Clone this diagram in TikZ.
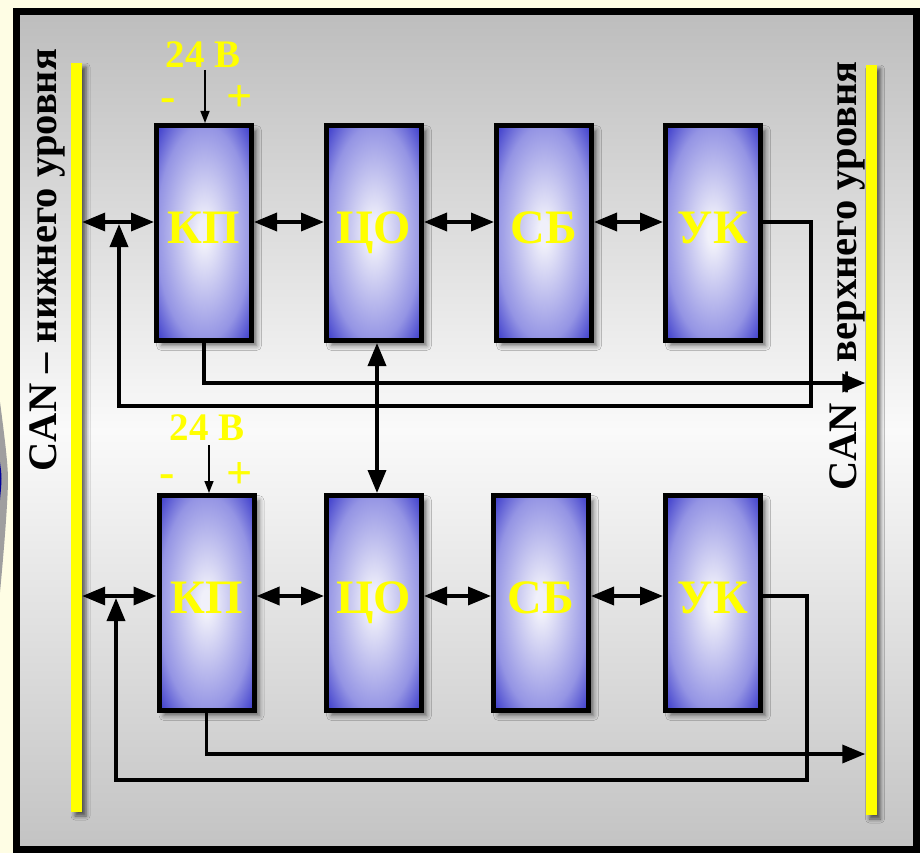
\documentclass[tikz,border=0pt]{standalone}
\usepackage{fontspec}
\setmainfont{Liberation Serif}
\usetikzlibrary{arrows.meta,shadows.blur}
\definecolor{cream}{HTML}{FEFDE4}
\definecolor{bgin}{HTML}{F0F0FA}
\definecolor{bgmid}{HTML}{9494E4}
\definecolor{bgout}{HTML}{3232C8}
\definecolor{ylw}{HTML}{FFFF00}
\definecolor{frtop}{HTML}{BDBDBD}
\definecolor{frmid}{HTML}{FAFAFA}
\definecolor{frbot}{HTML}{C3C3C3}
\pgfdeclareradialshading{boxglow}{\pgfpoint{0bp}{0bp}}{color(0bp)=(bgin); color(3bp)=(bgin); color(25bp)=(bgmid); color(36bp)=(bgout); color(50bp)=(bgout)}
\tikzset{
  blk/.style={draw=black, line width=5pt, minimum width=95pt, minimum height=215pt, inner sep=0pt, shade, shading=boxglow,
    blur shadow={shadow xshift=5pt, shadow yshift=-5pt, shadow blur radius=5pt, shadow opacity=55}},
  bar/.style={fill=ylw, minimum width=11pt, inner sep=0pt,
    blur shadow={shadow xshift=4pt, shadow yshift=-4pt, shadow blur radius=4pt, shadow opacity=60}},
  lbl/.style={font=\bfseries\fontsize{48}{48}\selectfont, text=ylw, anchor=base, inner sep=0pt},
  vlt/.style={font=\bfseries\fontsize{39}{39}\selectfont, text=ylw, inner sep=0pt},
  sgn/.style={font=\bfseries\fontsize{46}{46}\selectfont, text=ylw, inner sep=0pt},
  cantxt/.style={font=\bfseries\fontsize{40.5}{40.5}\selectfont, rotate=90, inner sep=0pt},
  wire/.style={line width=3.5pt},
  arr/.style={wire, -{Triangle[length=23pt,width=18pt]}},
  dbl/.style={wire, {Triangle[length=23pt,width=18pt]}-{Triangle[length=23pt,width=18pt]}},
  pwr/.style={line width=1.5pt, -{Triangle[length=12pt,width=9pt]}},
}
\begin{document}
\begin{tikzpicture}[x=1pt,y=-1pt]
\useasboundingbox (0,0) rectangle (920,853);
\fill[cream] (0,0) rectangle (920,853);
\fill[gray!75] (0,402) .. controls (5,440) and (8,465) .. (8,480) .. controls (8,495) and (5,540) .. (0,592) -- cycle;
\fill[blue!60!black] (0,462) .. controls (2,478) .. (0,500) -- cycle;
\draw[line width=6.5pt, top color=frtop, bottom color=frbot, middle color=frmid] (16.5,11.5) rectangle (916.5,849.5);

% buses
\node[bar, minimum height=749pt] (lbar) at (76.5,437.5) {};
\node[bar, minimum height=750pt] (rbar) at (871,440) {};
\node[cantxt] (ltxt) at (47,260) {CAN – нижнего уровня};
\node[cantxt] (rtxt) at (847,276) {CAN – верхнего уровня};

% blocks
\node[blk] (kp1) at (204,233) {};
\node[blk] (co1) at (374,233) {};
\node[blk] (sb1) at (544,233) {};
\node[blk] (uk1) at (713,233) {};
\node[blk] (kp2) at (206.5,603) {};
\node[blk] (co2) at (374,603) {};
\node[blk] (sb2) at (541,603) {};
\node[blk] (uk2) at (713,603) {};

\node[lbl] (kp1t) at ([yshift=-10pt]kp1.center) {КП};
\node[lbl] (co1t) at ([yshift=-10pt]co1.center) {ЦО};
\node[lbl] (sb1t) at ([yshift=-10pt]sb1.center) {СБ};
\node[lbl] (uk1t) at ([yshift=-10pt]uk1.center) {УК};
\node[lbl] (kp2t) at ([yshift=-10pt]kp2.center) {КП};
\node[lbl] (co2t) at ([yshift=-10pt]co2.center) {ЦО};
\node[lbl] (sb2t) at ([yshift=-10pt]sb2.center) {СБ};
\node[lbl] (uk2t) at ([yshift=-10pt]uk2.center) {УК};

% ports
\coordinate (p1) at (0,222);
\coordinate (p2) at (0,596);
\coordinate (o1) at (0,383);
\coordinate (o2) at (0,754);
\coordinate (t1) at (811,406);
\coordinate (u1) at (119,224);
\coordinate (t2) at (807,780);
\coordinate (u2) at (116,598);

% top row
\draw[dbl] (lbar.east |- p1) -- (kp1.west |- p1);
\draw[dbl] (kp1.east |- p1) -- (co1.west |- p1);
\draw[dbl] (co1.east |- p1) -- (sb1.west |- p1);
\draw[dbl] (sb1.east |- p1) -- (uk1.west |- p1);
\draw[arr] (kp1.south) |- (rbar.west |- o1);
\draw[arr] (uk1.east |- p1) -| (t1) -| (u1);

% bottom row
\draw[dbl] (lbar.east |- p2) -- (kp2.west |- p2);
\draw[dbl] (kp2.east |- p2) -- (co2.west |- p2);
\draw[dbl] (co2.east |- p2) -- (sb2.west |- p2);
\draw[dbl] (sb2.east |- p2) -- (uk2.west |- p2);
\draw[arr] (kp2.south) |- (rbar.west |- o2);
\draw[arr] (uk2.east |- p2) -| (t2) -| (u2);

% link between rows
\draw[dbl] ([xshift=3pt]co1.south) -- ([xshift=3pt]co2.north);

% power
\coordinate (v1) at (205,70);
\coordinate (v2) at (209,445);
\draw[pwr] (v1) -- (v1 |- kp1.north);
\draw[pwr] (v2) -- (v2 |- kp2.north);
\node[vlt] (v1t) at (203,55) {24 В};
\node[sgn] (m1) at (168,105) {-};
\node[sgn] (pl1) at (240,99) {+};
\node[vlt] (v2t) at (207,428) {24 В};
\node[sgn] (m2) at (167.5,481) {-};
\node[sgn] (pl2) at (240,476) {+};
\end{tikzpicture}
\end{document}
